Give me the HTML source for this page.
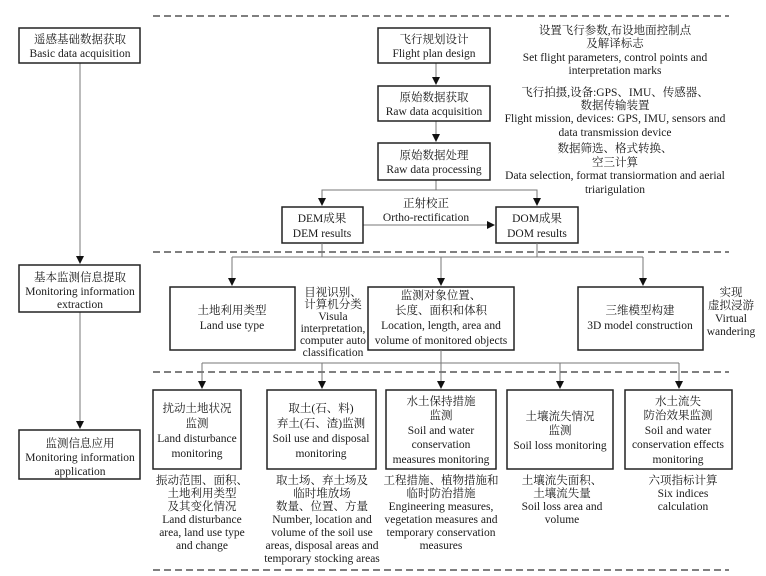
<!DOCTYPE html>
<html><head><meta charset="utf-8"><style>
html,body{margin:0;padding:0;background:#fff}
svg{display:block}
text{font-family:"Liberation Serif","Noto Serif CJK SC",serif;font-size:11.5px;fill:#1a1a1a;text-anchor:middle}
.b{fill:#fff;stroke:#222;stroke-width:1.5}
.l{stroke:#777;stroke-width:1;fill:none}
.d{stroke:#333;stroke-width:1.3;stroke-dasharray:7,4;fill:none}
</style></head><body>
<svg width="766" height="576" viewBox="0 0 766 576" xmlns="http://www.w3.org/2000/svg">
<defs><marker id="a" markerWidth="8" markerHeight="10" refX="7" refY="4" orient="auto" markerUnits="userSpaceOnUse"><path d="M0,0 L8,4 L0,8 Z" fill="#111"/></marker></defs>
<line class="d" x1="153" y1="16" x2="729" y2="16"/>
<line class="d" x1="153" y1="252" x2="729" y2="252"/>
<line class="d" x1="153" y1="372" x2="729" y2="372"/>
<line class="d" x1="153" y1="570" x2="729" y2="570"/>

<!-- left column -->
<line class="l" x1="80" y1="63" x2="80" y2="263" marker-end="url(#a)"/>
<line class="l" x1="80" y1="312" x2="80" y2="428" marker-end="url(#a)"/>
<rect class="b" x="19" y="28" width="121" height="35"/>
<text x="80" y="43">遥感基础数据获取</text><text x="80" y="57">Basic data acquisition</text>
<rect class="b" x="19" y="265" width="121" height="47"/>
<text x="80" y="281">基本监测信息提取</text><text x="80" y="295">Monitoring information</text><text x="80" y="308">extraction</text>
<rect class="b" x="19" y="430" width="121" height="49"/>
<text x="80" y="447">监测信息应用</text><text x="80" y="461">Monitoring information</text><text x="80" y="475">application</text>

<!-- top chain -->
<line class="l" x1="436" y1="63" x2="436" y2="84" marker-end="url(#a)"/>
<line class="l" x1="436" y1="121" x2="436" y2="141" marker-end="url(#a)"/>
<polyline class="l" points="436,180 436,190"/>
<polyline class="l" points="322,205 322,190 537,190 537,205" />
<line class="l" x1="322" y1="195" x2="322" y2="205" marker-end="url(#a)"/>
<line class="l" x1="537" y1="195" x2="537" y2="205" marker-end="url(#a)"/>
<line class="l" x1="363" y1="225" x2="494" y2="225" marker-end="url(#a)"/>
<rect class="b" x="378" y="28" width="112" height="35"/>
<text x="434" y="43">飞行规划设计</text><text x="434" y="57">Flight plan design</text>
<rect class="b" x="378" y="86" width="112" height="35"/>
<text x="434" y="101">原始数据获取</text><text x="434" y="115">Raw data acquisition</text>
<rect class="b" x="378" y="143" width="112" height="37"/>
<text x="434" y="159">原始数据处理</text><text x="434" y="173">Raw data processing</text>
<rect class="b" x="282" y="207" width="81" height="36"/>
<text x="322" y="222">DEM成果</text><text x="322" y="237">DEM results</text>
<rect class="b" x="496" y="207" width="82" height="36"/>
<text x="537" y="222">DOM成果</text><text x="537" y="237">DOM results</text>
<text x="426" y="207">正射校正</text><text x="426" y="221">Ortho-rectification</text>

<text x="615" y="34">设置飞行参数,布设地面控制点</text>
<text x="615" y="47">及解译标志</text>
<text x="615" y="61">Set flight parameters, control points and</text>
<text x="615" y="74">interpretation marks</text>
<text x="615" y="96">飞行拍摄,设备:GPS、IMU、传感器、</text>
<text x="615" y="109">数据传输装置</text>
<text x="615" y="122">Flight mission, devices: GPS, IMU, sensors and</text>
<text x="615" y="136">data transmission device</text>
<text x="615" y="152">数据筛选、格式转换、</text>
<text x="615" y="166">空三计算</text>
<text x="615" y="179">Data selection, format transiormation and aerial</text>
<text x="615" y="193">triarigulation</text>

<!-- middle -->
<line class="l" x1="322" y1="243" x2="322" y2="257"/>
<line class="l" x1="537" y1="243" x2="537" y2="257"/>
<line class="l" x1="232" y1="257" x2="643" y2="257"/>
<line class="l" x1="232" y1="257" x2="232" y2="285" marker-end="url(#a)"/>
<line class="l" x1="441" y1="257" x2="441" y2="285" marker-end="url(#a)"/>
<line class="l" x1="643" y1="257" x2="643" y2="285" marker-end="url(#a)"/>
<rect class="b" x="170" y="287" width="125" height="63"/>
<text x="232" y="314">土地利用类型</text><text x="232" y="329">Land use type</text>
<rect class="b" x="368" y="287" width="146" height="63"/>
<text x="441" y="299">监测对象位置、</text><text x="441" y="314">长度、面积和体积</text><text x="441" y="329">Location, length, area and</text><text x="441" y="344">volume of monitored objects</text>
<rect class="b" x="578" y="287" width="125" height="63"/>
<text x="640" y="314">三维模型构建</text><text x="640" y="329">3D model construction</text>
<text x="333" y="296">目视识别、</text><text x="333" y="308">计算机分类</text><text x="333" y="320">Visula</text><text x="333" y="332">interpretation,</text><text x="333" y="344">computer auto</text><text x="333" y="356">classification</text>
<text x="731" y="296">实现</text><text x="731" y="309">虚拟浸游</text><text x="731" y="322">Virtual</text><text x="731" y="335">wandering</text>

<!-- bottom -->
<line class="l" x1="441" y1="350" x2="441" y2="363"/>
<line class="l" x1="202" y1="363" x2="679" y2="363"/>
<line class="l" x1="202" y1="363" x2="202" y2="388" marker-end="url(#a)"/>
<line class="l" x1="322" y1="363" x2="322" y2="388" marker-end="url(#a)"/>
<line class="l" x1="441" y1="363" x2="441" y2="388" marker-end="url(#a)"/>
<line class="l" x1="560" y1="363" x2="560" y2="388" marker-end="url(#a)"/>
<line class="l" x1="679" y1="363" x2="679" y2="388" marker-end="url(#a)"/>

<rect class="b" x="153" y="390" width="88" height="79"/>
<text x="197" y="412">扰动土地状况</text><text x="197" y="427">监测</text><text x="197" y="442">Land disturbance</text><text x="197" y="457">monitoring</text>
<rect class="b" x="267" y="390" width="109" height="79"/>
<text x="321" y="412">取土(石、料)</text><text x="321" y="427">弃土(石、渣)监测</text><text x="321" y="442">Soil use and disposal</text><text x="321" y="457">monitoring</text>
<rect class="b" x="386" y="390" width="110" height="79"/>
<text x="441" y="405">水土保持措施</text><text x="441" y="419">监测</text><text x="441" y="434">Soil and water</text><text x="441" y="448">conservation</text><text x="441" y="463">measures monitoring</text>
<rect class="b" x="507" y="390" width="106" height="79"/>
<text x="560" y="420">土壤流失情况</text><text x="560" y="434">监测</text><text x="560" y="449">Soil loss monitoring</text>
<rect class="b" x="625" y="390" width="107" height="79"/>
<text x="678" y="405">水土流失</text><text x="678" y="419">防治效果监测</text><text x="678" y="434">Soil and water</text><text x="678" y="448">conservation effects</text><text x="678" y="463">monitoring</text>

<text x="202" y="484">振动范围、面积、</text><text x="202" y="497">土地利用类型</text><text x="202" y="510">及其变化情况</text><text x="202" y="523">Land disturbance</text><text x="202" y="536">area, land use type</text><text x="202" y="549">and change</text>
<text x="322" y="484">取土场、弃土场及</text><text x="322" y="497">临时堆放场</text><text x="322" y="510">数量、位置、方量</text><text x="322" y="523">Number, location and</text><text x="322" y="536">volume of the soil use</text><text x="322" y="549">areas, disposal areas and</text><text x="322" y="562">temporary stocking areas</text>
<text x="441" y="484">工程措施、植物措施和</text><text x="441" y="497">临时防治措施</text><text x="441" y="510">Engineering measures,</text><text x="441" y="523">vegetation measures and</text><text x="441" y="536">temporary conservation</text><text x="441" y="549">measures</text>
<text x="562" y="484">土壤流失面积、</text><text x="562" y="497">土壤流失量</text><text x="562" y="510">Soil loss area and</text><text x="562" y="523">volume</text>
<text x="683" y="484">六项指标计算</text><text x="683" y="497">Six indices</text><text x="683" y="510">calculation</text>
</svg>
</body></html>
